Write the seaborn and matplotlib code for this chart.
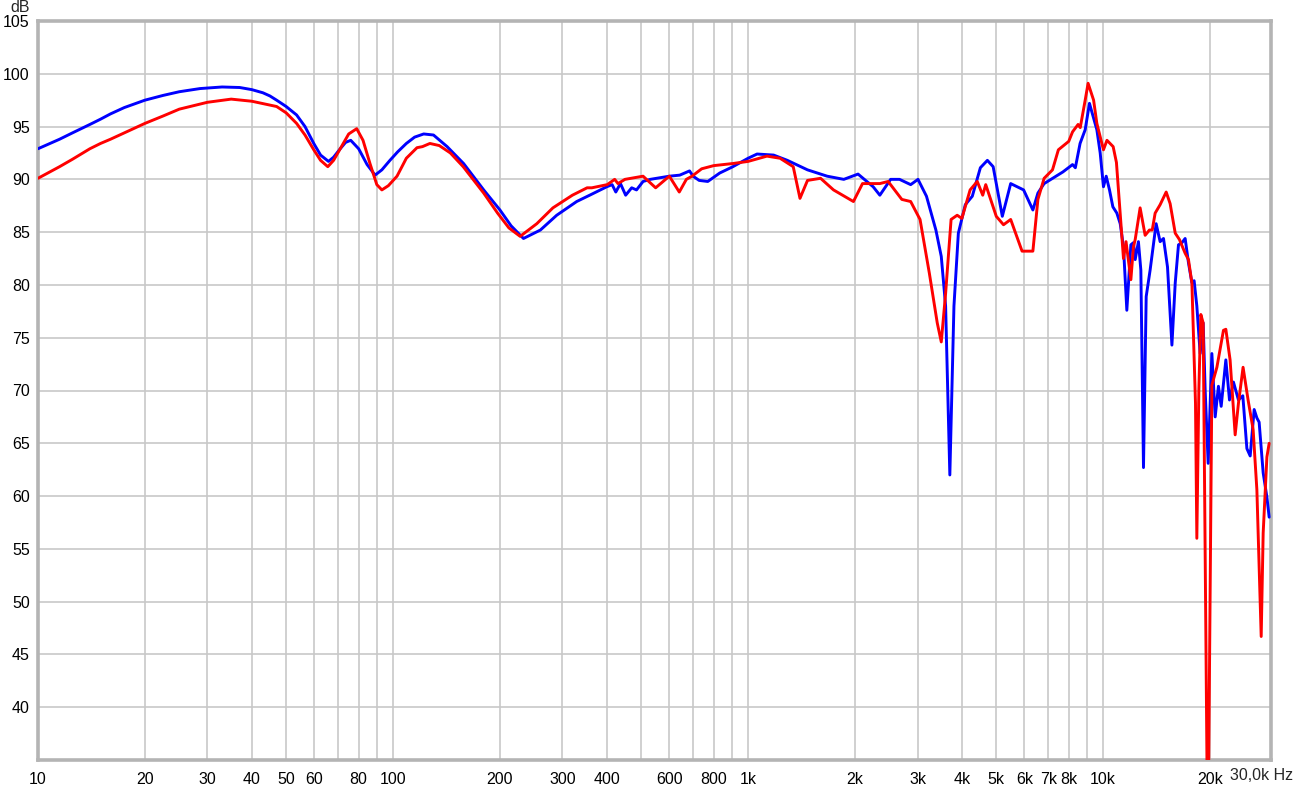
import matplotlib
matplotlib.use("Agg")
import matplotlib.pyplot as plt
import seaborn as sns
import pandas as pd
from matplotlib.ticker import FixedLocator, FixedFormatter, NullFormatter

# ---------------- data ----------------
freq_blue = [10, 11.5, 12.5, 14, 15, 16, 17.5, 20, 22.5, 25, 28.6, 33, 37, 40, 43, 45, 47, 50, 53.5,
             56.5, 59.8, 62.5, 65.8, 68, 71, 73.5, 76, 80, 84.5, 89, 93, 98, 103, 109, 115, 122, 130,
             142, 158, 180, 200, 215, 233, 260, 289, 329, 358, 400, 414, 424, 437, 452, 470, 485,
             506, 530, 600, 642, 684, 700, 728, 770, 832, 906, 1000, 1060, 1180, 1290, 1470, 1670,
             1860, 2040, 2250, 2350, 2520, 2670, 2870, 3010, 3180, 3380, 3500, 3600, 3700, 3800,
             3910, 4090, 4280, 4510, 4720, 4900, 5200, 5490, 5970, 6340, 6550, 6820, 7700, 8200,
             8350, 8610, 8900, 9150, 9600, 9810, 10020, 10200, 10420, 10650, 10930, 11170, 11410,
             11660, 11970, 12170, 12310, 12570, 12770, 12990, 13220, 13560, 14100, 14470, 14790,
             15180, 15620, 15960, 16300, 16670, 17020, 17390, 17780, 18040, 18360, 18760, 19130,
             19380, 19760, 20240, 20680, 21120, 21500, 22160, 22690, 23280, 24050, 24740, 25400,
             25950, 26630, 27100, 27500, 28230, 28920, 29350]
db_blue = [92.9, 93.8, 94.4, 95.2, 95.7, 96.2, 96.8, 97.5, 97.95, 98.3, 98.6, 98.75, 98.7, 98.5, 98.2,
           97.9, 97.5, 96.9, 96.1, 95.0, 93.4, 92.3, 91.7, 92.1, 92.9, 93.5, 93.7, 92.9, 91.4, 90.4,
           90.9, 91.8, 92.6, 93.4, 94.0, 94.3, 94.2, 93.1, 91.5, 89.0, 87.1, 85.6, 84.4, 85.2, 86.6,
           87.9, 88.5, 89.3, 89.5, 88.8, 89.6, 88.5, 89.2, 89.0, 89.8, 90.0, 90.3, 90.4, 90.8, 90.3,
           89.9, 89.8, 90.6, 91.2, 92.0, 92.4, 92.3, 91.8, 90.9, 90.3, 90.0, 90.5, 89.3, 88.5, 90.0,
           90.0, 89.5, 90.0, 88.4, 85.2, 82.7, 78.0, 62.0, 78.0, 84.9, 87.6, 88.4, 91.1, 91.8, 91.2,
           86.5, 89.6, 89.0, 87.1, 88.7, 89.6, 90.7, 91.4, 91.1, 93.4, 94.7, 97.2, 94.7, 92.5, 89.3,
           90.3, 89.0, 87.4, 86.8, 85.8, 83.6, 77.6, 83.8, 84.0, 82.4, 84.1, 81.4, 62.7, 78.9, 81.4,
           85.8, 84.1, 84.4, 81.7, 74.3, 80.2, 83.8, 84.0, 84.4, 82.1, 80.2, 80.4, 78.0, 73.5, 76.4,
           70.0, 63.1, 73.5, 67.5, 70.4, 68.5, 72.9, 69.1, 70.8, 69.1, 69.5, 64.5, 63.8, 68.2, 67.4,
           67.0, 62.2, 59.9, 58.0]

freq_red = [10, 11.5, 12.5, 14, 15, 16, 17.5, 20, 22.5, 25, 30, 35, 40, 44, 47, 50, 53.5, 56.5, 59.8,
            62.5, 65.5, 68, 71, 75, 79, 82.3, 86.1, 90, 93, 97, 102.6, 109, 116.8, 121, 127, 135, 145,
            157.6, 180, 197, 212, 228, 254, 282, 320, 352, 363, 401, 421, 430, 450, 506, 549, 600,
            640, 670, 695, 740, 800, 906, 1000, 1130, 1230, 1340, 1400, 1470, 1600, 1740, 1980, 2100,
            2350, 2480, 2710, 2870, 3050, 3240, 3410, 3500, 3600, 3730, 3880, 4000, 4220, 4420, 4580,
            4670, 5000, 5240, 5490, 5910, 6340, 6550, 6820, 7200, 7480, 8000, 8200, 8500, 8620, 8900,
            9070, 9400, 9600, 10020, 10250, 10670, 10900, 11170, 11410, 11600, 11970, 12170, 12310,
            12710, 13130, 13500, 13750, 14010, 14470, 15050, 15440, 15960, 16400, 17020, 17390,
            17780, 18200, 18360, 18600, 18840, 19130, 19720, 20240, 20910, 21820, 22160, 22780,
            23540, 24050, 24780, 25600, 26450, 27100, 27870, 28230, 28920, 29350]
db_red = [90.1, 91.2, 91.9, 92.9, 93.4, 93.8, 94.4, 95.3, 96.0, 96.65, 97.3, 97.6, 97.4, 97.1, 96.9,
          96.3, 95.3, 94.2, 92.8, 91.8, 91.2, 91.8, 92.9, 94.3, 94.8, 93.7, 91.5, 89.5, 89.0, 89.4,
          90.3, 92.0, 93.0, 93.1, 93.4, 93.2, 92.5, 91.2, 88.7, 86.8, 85.4, 84.6, 85.8, 87.3, 88.5,
          89.2, 89.2, 89.5, 90.0, 89.6, 90.0, 90.3, 89.2, 90.3, 88.8, 90.0, 90.3, 91.0, 91.3, 91.5,
          91.7, 92.2, 92.0, 91.2, 88.2, 89.9, 90.1, 89.0, 87.9, 89.6, 89.6, 89.8, 88.1, 87.9, 86.2,
          81.1, 76.4, 74.6, 79.2, 86.2, 86.6, 86.3, 89.0, 89.8, 88.5, 89.5, 86.5, 85.7, 86.2, 83.2,
          83.2, 88.1, 90.1, 90.9, 92.8, 93.6, 94.5, 95.2, 94.9, 97.5, 99.1, 97.5, 95.3, 92.8, 93.7,
          93.1, 91.6, 86.8, 82.5, 84.1, 80.5, 83.6, 84.3, 87.3, 84.7, 85.2, 85.2, 86.8, 87.6, 88.8,
          87.7, 84.9, 84.3, 83.0, 82.4, 80.2, 68.8, 56.0, 70.0, 77.2, 76.4, 25.0, 70.5, 72.2, 75.7,
          75.8, 72.9, 65.8, 68.8, 72.2, 69.1, 66.3, 60.6, 46.7, 56.5, 63.7, 65.0]

x_major = [10, 20, 30, 40, 50, 60, 80, 100, 200, 300, 400, 600, 800, 1000, 2000, 3000, 4000,
           5000, 6000, 7000, 8000, 10000, 20000]
x_labels = ["10", "20", "30", "40", "50", "60", "80", "100", "200", "300", "400", "600", "800",
            "1k", "2k", "3k", "4k", "5k", "6k", "7k", "8k", "10k", "20k"]
x_minor = [70, 90, 500, 700, 900, 9000]
y_ticks = [40, 45, 50, 55, 60, 65, 70, 75, 80, 85, 90, 95, 100, 105]
end_label = "30,0k Hz"
unit_label = "dB"

# ---------------- plot ----------------
sns.set_style("white")
plt.rcParams["font.family"] = ["Liberation Sans", "DejaVu Sans"]

W, H = 1297, 786
fig = plt.figure(figsize=(W / 100, H / 100), dpi=100)
ax = fig.add_axes([38 / W, (H - 760) / H, (1271 - 38) / W, (760 - 21) / H])

df = pd.DataFrame({
    "Hz": freq_blue + freq_red,
    "dB": db_blue + db_red,
    "ch": ["L"] * len(freq_blue) + ["R"] * len(freq_red),
})
sns.lineplot(data=df, x="Hz", y="dB", hue="ch", hue_order=["L", "R"],
             palette={"L": "#0000ff", "R": "#ff0000"}, sort=False, estimator=None,
             legend=False, linewidth=2.1, ax=ax, zorder=3)

ax.set_xscale("log")
ax.set_xlim(10, 29700)
ax.set_ylim(35, 105)
ax.xaxis.set_major_locator(FixedLocator(x_major))
ax.xaxis.set_major_formatter(FixedFormatter(x_labels))
ax.xaxis.set_minor_locator(FixedLocator(x_minor))
ax.xaxis.set_minor_formatter(NullFormatter())
ax.yaxis.set_major_locator(FixedLocator(y_ticks))
ax.set_yticklabels([str(v) for v in y_ticks])

ax.grid(True, which="both", axis="x", color="#c8c8c8", linewidth=1.2)
ax.grid(True, which="major", axis="y", color="#c8c8c8", linewidth=1.2)
ax.set_axisbelow(True)

ax.tick_params(axis="both", which="both", length=0, labelsize=11.5, colors="#000000")
ax.tick_params(axis="x", pad=9)
ax.tick_params(axis="y", pad=6)
ax.set_xlabel("")
ax.set_ylabel("")

for s in ax.spines.values():
    s.set_visible(True)
    s.set_color("#b4b4b4")
    s.set_linewidth(2.6)

fig.text(20 / W, 1 - 8 / H, unit_label, ha="center", va="center", fontsize=11.5)
fig.text(1293 / W, 1 - 776 / H, end_label, ha="right", va="center", fontsize=11.5)

fig.savefig("out.png", dpi=100, facecolor="white")
